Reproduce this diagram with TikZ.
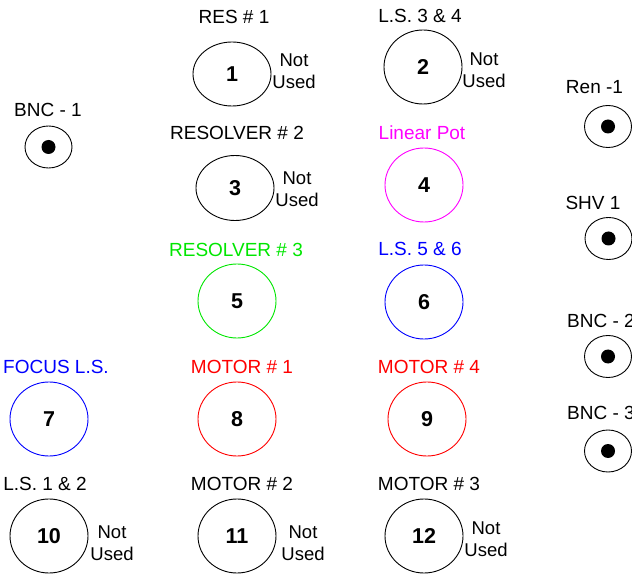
\documentclass[tikz,border=0pt]{standalone}
\usepackage{fontspec}
\setmainfont{Liberation Sans}
\usetikzlibrary{shapes.geometric}
\definecolor{cgreen}{RGB}{0,230,0}
\definecolor{cmag}{RGB}{255,0,255}
\definecolor{cblue}{RGB}{0,0,255}
\definecolor{cred}{RGB}{255,0,0}
\begin{document}
\begin{tikzpicture}[x=1pt,y=-1pt,
 conn/.style={ellipse,draw,line width=0.9pt,inner sep=0pt,minimum width=78pt,minimum height=74pt,font=\fontsize{21.5}{21.5}\selectfont\bfseries},
 lbl/.style={font=\fontsize{19}{19}\selectfont, inner sep=0pt},
 nu/.style={font=\fontsize{18.5}{22.5}\selectfont, align=center, inner sep=0pt},
 bnc/.style={ellipse,draw,line width=0.9pt,minimum width=47pt,minimum height=42pt,inner sep=0pt},
 dot/.style={circle,fill,inner sep=0pt,minimum size=14pt}]
\useasboundingbox (0,0) rectangle (632,577);
% main connectors
\node[conn,minimum height=64pt] (c1) at (232,74) {1};
\node[conn] (c2) at (423,67) {2};
\node[conn,minimum height=65pt] (c3) at (235,188) {3};
\node[conn,draw=cmag] (c4) at (424,185) {4};
\node[conn,draw=cgreen] (c5) at (237,301) {5};
\node[conn,draw=cblue] (c6) at (424,302) {6};
\node[conn,draw=cblue] (c7) at (49,419) {7};
\node[conn,draw=cred] (c8) at (237,419) {8};
\node[conn,draw=cred] (c9) at (427,419) {9};
\node[conn] (c10) at (49,536) {10};
\node[conn] (c11) at (237,536) {11};
\node[conn] (c12) at (424,536) {12};
% labels
\node[lbl] (l1) at (234,17) {RES \# 1};
\node[lbl] (l2) at (420,16) {L.S. 3 \& 4};
\node[lbl] (l3) at (237,133) {RESOLVER \# 2};
\node[lbl,text=cmag] (l4) at (422,133) {Linear Pot};
\node[lbl,text=cgreen] (l5) at (236,250) {RESOLVER \# 3};
\node[lbl,text=cblue] (l6) at (420,249) {L.S. 5 \& 6};
\node[lbl,text=cblue] (l7) at (56,367) {FOCUS L.S.};
\node[lbl,text=cred] (l8) at (242,367) {MOTOR \# 1};
\node[lbl,text=cred] (l9) at (429,367) {MOTOR \# 4};
\node[lbl] (l10) at (45,484) {L.S. 1 \& 2};
\node[lbl] (l11) at (242,484) {MOTOR \# 2};
\node[lbl] (l12) at (429,484) {MOTOR \# 3};
% not used
\node[nu] (n1) at (294,71) {Not\\Used};
\node[nu] (n2) at (484,70) {Not\\Used};
\node[nu] (n3) at (297,189) {Not\\Used};
\node[nu] (n10) at (112,543) {Not\\Used};
\node[nu] (n11) at (303,543) {Not\\Used};
\node[nu] (n12) at (486,539) {Not\\Used};
% small coax connectors
\node[bnc] (b1) at (48.5,147) {};
\node[dot] (d1) at (b1.center) {};
\node[lbl] (lb1) at (48,110) {BNC - 1};
\node[bnc] (r1) at (608,126.5) {};
\node[dot] (dr1) at (r1.center) {};
\node[lbl] (lr1) at (594.5,87) {Ren -1};
\node[bnc] (s1) at (608.5,238.5) {};
\node[dot] (ds1) at (s1.center) {};
\node[lbl] (ls1) at (593,203) {SHV 1};
\node[bnc] (b2) at (608,356.5) {};
\node[dot] (db2) at (b2.center) {};
\node[lbl,anchor=west] (lb2) at (567,321) {BNC - 2};
\node[bnc] (b3) at (608,451) {};
\node[dot] (db3) at (b3.center) {};
\node[lbl,anchor=west] (lb3) at (567,413) {BNC - 3};
\end{tikzpicture}
\end{document}
